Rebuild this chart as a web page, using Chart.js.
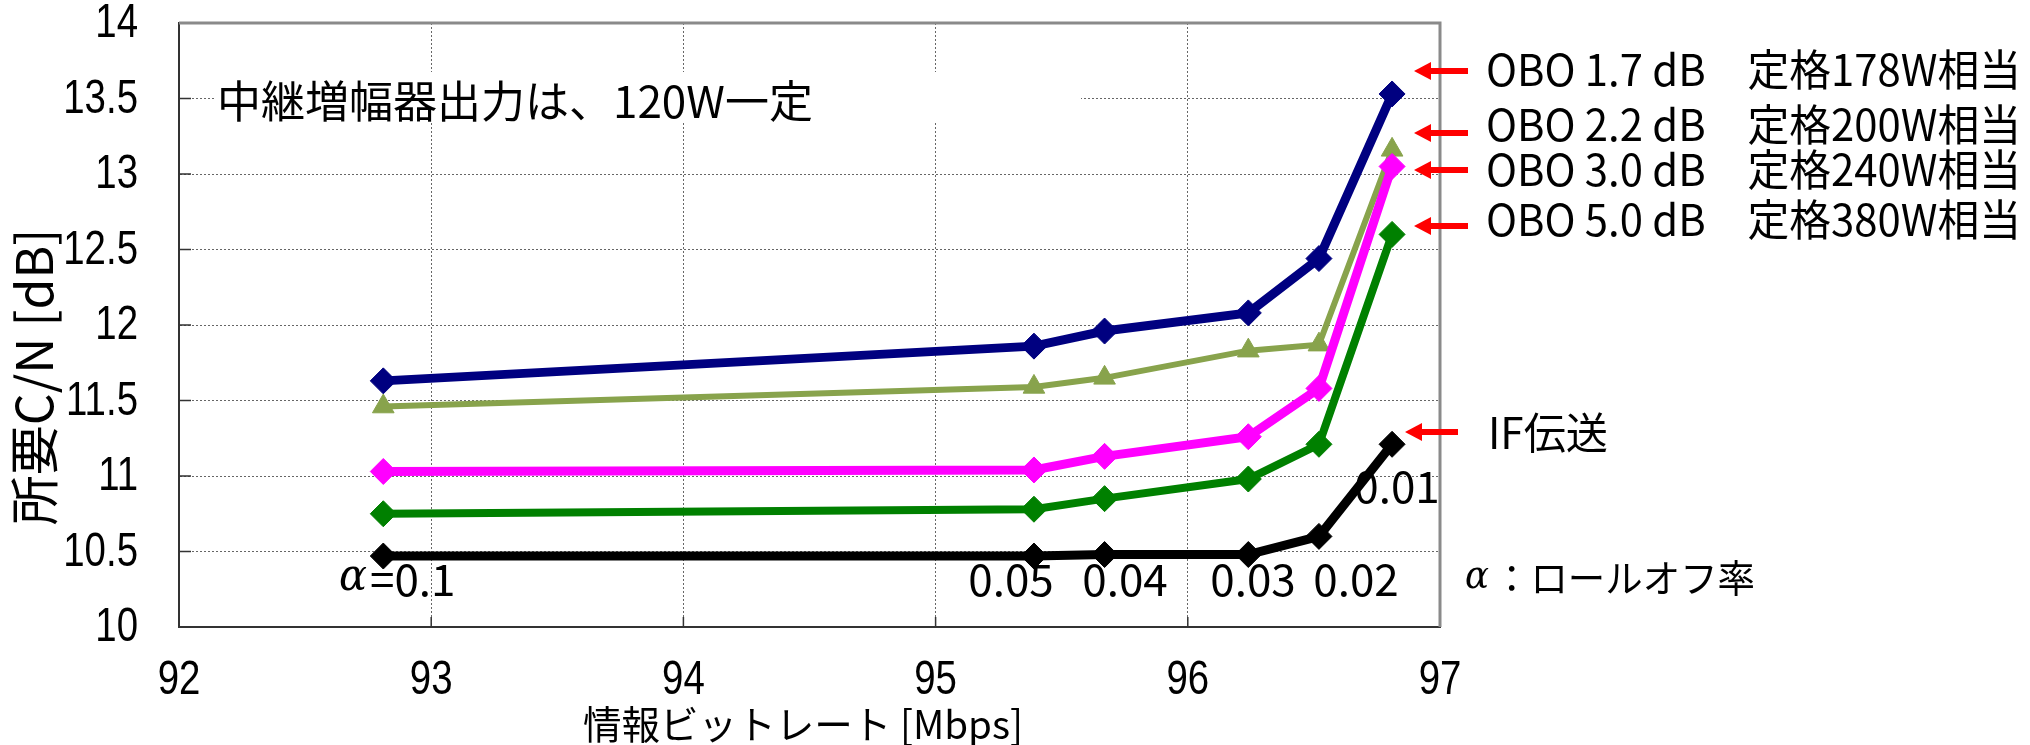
<!DOCTYPE html>
<html>
<head>
<meta charset="utf-8">
<script src="https://cdn.jsdelivr.net/npm/chart.js@4.4.1/dist/chart.umd.min.js"></script>
<style>
  html, body { margin: 0; padding: 0; background: #fff; }
</style>
</head>
<body>
<canvas id="cnChart" width="2030" height="745"></canvas>
<script>
// roll-off factor of each measured point, and the info bit rate it gives
const rollOff = ["0.1", "0.05", "0.04", "0.03", "0.02", "0.01"];
const bitRate = [92.81, 95.39, 95.67, 96.24, 96.52, 96.81];

// required C/N [dB]
const obo17 = [11.63, 11.86, 11.96, 12.08, 12.44, 13.53];
const obo22 = [11.46, 11.59, 11.65, 11.83, 11.87, 13.16];
const obo30 = [11.03, 11.04, 11.13, 11.26, 11.58, 13.05];
const obo50 = [10.75, 10.78, 10.85, 10.98, 11.21, 12.60];
const ifTrans = [10.47, 10.47, 10.48, 10.48, 10.60, 11.21];

const seriesNames = [
  "OBO 1.7 dB　定格178W相当",
  "OBO 2.2 dB　定格200W相当",
  "OBO 3.0 dB　定格240W相当",
  "OBO 5.0 dB　定格380W相当",
  "IF伝送"
];

const xTicks = [92, 93, 94, 95, 96, 97];
const yTicks = [10, 10.5, 11, 11.5, 12, 12.5, 13, 13.5, 14];

const jp = "'Noto Sans CJK JP', sans-serif";
const num = "'Liberation Sans', sans-serif";

function pts(ys) {
  return bitRate.map((b, i) => ({ x: b, y: ys[i] }));
}

function write(ctx, s, x, y, size, family, align, maxW, italic) {
  ctx.font = (italic ? "italic " : "") + size + "px " + family;
  ctx.textAlign = align;
  ctx.textBaseline = "middle";
  ctx.fillStyle = "#000";
  if (maxW) ctx.fillText(s, x, y, maxW);
  else ctx.fillText(s, x, y);
}

// squeezed digits, like the narrow gothic used on the axes
function narrowText(ctx, s, x, y, align) {
  ctx.save();
  ctx.translate(x, y);
  ctx.scale(0.8, 1);
  write(ctx, s, 0, 0, 48, num, align);
  ctx.restore();
}

function arrow(ctx, tip, tail, y) {
  ctx.fillStyle = "#ff0000";
  ctx.fillRect(tip + 14, y - 3, tail - tip - 14, 6);
  ctx.beginPath();
  ctx.moveTo(tip, y);
  ctx.lineTo(tip + 17, y - 9);
  ctx.lineTo(tip + 17, y + 9);
  ctx.closePath();
  ctx.fill();
}

const notes = {
  id: "notes",
  beforeDatasetsDraw(chart) {
    const ctx = chart.ctx;
    const a = chart.chartArea;
    const xs = chart.scales.x, ys = chart.scales.y;
    ctx.save();

    // short solid tick marks inside the axes
    ctx.strokeStyle = "#333";
    ctx.lineWidth = 1.5;
    ctx.beginPath();
    ys.ticks.forEach(t => {
      const p = ys.getPixelForValue(t.value);
      ctx.moveTo(a.left, p); ctx.lineTo(a.left + 12, p);
    });
    xs.ticks.forEach(t => {
      const p = xs.getPixelForValue(t.value);
      ctx.moveTo(p, a.bottom); ctx.lineTo(p, a.bottom - 10);
    });
    ctx.stroke();

    // tick labels from the chart's own scales
    ys.ticks.forEach(t => narrowText(ctx, String(t.value), a.left - 41, ys.getPixelForValue(t.value) + 1, "right"));
    xs.ticks.forEach(t => narrowText(ctx, String(t.value), xs.getPixelForValue(t.value), a.bottom + 54, "center"));

    // note box
    ctx.fillStyle = "#fff";
    ctx.fillRect(216, 72, 865, 51);
    write(ctx, "中継増幅器出力は、120W一定", 217, 101, 44, jp, "left", 601);

    // roll-off labels
    write(ctx, "α", 339, 579, 44, "'DejaVu Serif', serif", "left", 28, true);
    write(ctx, "=0.1", 370, 579, 44, jp, "left", 88);
    const lx = [0, 1011, 1125, 1253, 1356, 1397];
    const ly = [0, 579, 579, 579, 579, 486];
    for (let i = 1; i < rollOff.length; i++) {
      write(ctx, rollOff[i], lx[i], ly[i], 44, jp, "center", 90);
    }
    ctx.restore();
  },
  afterDraw(chart) {
    const ctx = chart.ctx;
    const a = chart.chartArea;
    ctx.save();

    // top and right frame
    ctx.strokeStyle = "#8a8a8a";
    ctx.lineWidth = 3;
    ctx.beginPath();
    ctx.moveTo(a.left, a.top);
    ctx.lineTo(a.right, a.top);
    ctx.lineTo(a.right, a.bottom);
    ctx.stroke();

    // series labels with arrows
    const arrowY = [71, 133, 170, 226];
    const textY = [70, 125, 170, 220];
    for (let i = 0; i < 4; i++) {
      arrow(ctx, 1414, 1468, arrowY[i]);
      write(ctx, seriesNames[i], 1486, textY[i], 43, jp, "left", 535);
    }
    arrow(ctx, 1405, 1458, 432);
    write(ctx, seriesNames[4], 1488, 433, 43, jp, "left", 120);

    write(ctx, "α", 1465, 578, 40, "'DejaVu Serif', serif", "left", 24, true);
    write(ctx, "：ロールオフ率", 1493, 578, 38, jp, "left", 262);

    // axis titles
    write(ctx, "情報ビットレート [Mbps]", 583, 724, 39, jp, "left", 440);
    ctx.translate(34, 377);
    ctx.rotate(-Math.PI / 2);
    write(ctx, "所要C/N [dB]", 0, 0, 50, jp, "center", 310);
    ctx.restore();
  }
};

function line(label, data, color, width, shape, order) {
  return {
    label: label,
    data: pts(data),
    borderColor: color,
    backgroundColor: color,
    borderWidth: width,
    pointStyle: shape,
    pointRadius: shape === "triangle" ? 12.5 : 13,
    pointBorderWidth: 1,
    pointBackgroundColor: color,
    pointBorderColor: color,
    tension: 0,
    order: order
  };
}

const ctx = document.getElementById("cnChart").getContext("2d");

const chart = new Chart(ctx, {
  type: "line",
  data: {
    datasets: [
      line(seriesNames[0], obo17, "#000080", 9, "rectRot", 5),
      line(seriesNames[1], obo22, "#88a34c", 6, "triangle", 4),
      line(seriesNames[2], obo30, "#ff00ff", 9, "rectRot", 3),
      line(seriesNames[3], obo50, "#008000", 8, "rectRot", 2),
      line(seriesNames[4], ifTrans, "#000000", 9, "rectRot", 1)
    ]
  },
  options: {
    responsive: false,
    animation: false,
    devicePixelRatio: 1,
    layout: {
      padding: { left: 0, top: 23, right: 590, bottom: 0 }
    },
    plugins: {
      legend: { display: false },
      tooltip: { enabled: false }
    },
    scales: {
      x: {
        type: "linear",
        min: 92,
        max: 97,
        afterFit: s => { s.height = 118; s.paddingLeft = 0; s.paddingRight = 0; },
        afterBuildTicks: s => { s.ticks = xTicks.map(v => ({ value: v })); },
        ticks: { display: false },
        grid: { color: "#666", lineWidth: 1, drawTicks: false },
        border: { color: "#333", width: 2, dash: [2, 2] }
      },
      y: {
        min: 10,
        max: 14,
        afterFit: s => { s.width = 179; s.paddingTop = 0; s.paddingBottom = 0; },
        afterBuildTicks: s => { s.ticks = yTicks.map(v => ({ value: v })); },
        ticks: { display: false },
        grid: { color: "#666", lineWidth: 1, drawTicks: false },
        border: { color: "#333", width: 2, dash: [2, 2] }
      }
    }
  },
  plugins: [notes]
});
</script>
</body>
</html>
